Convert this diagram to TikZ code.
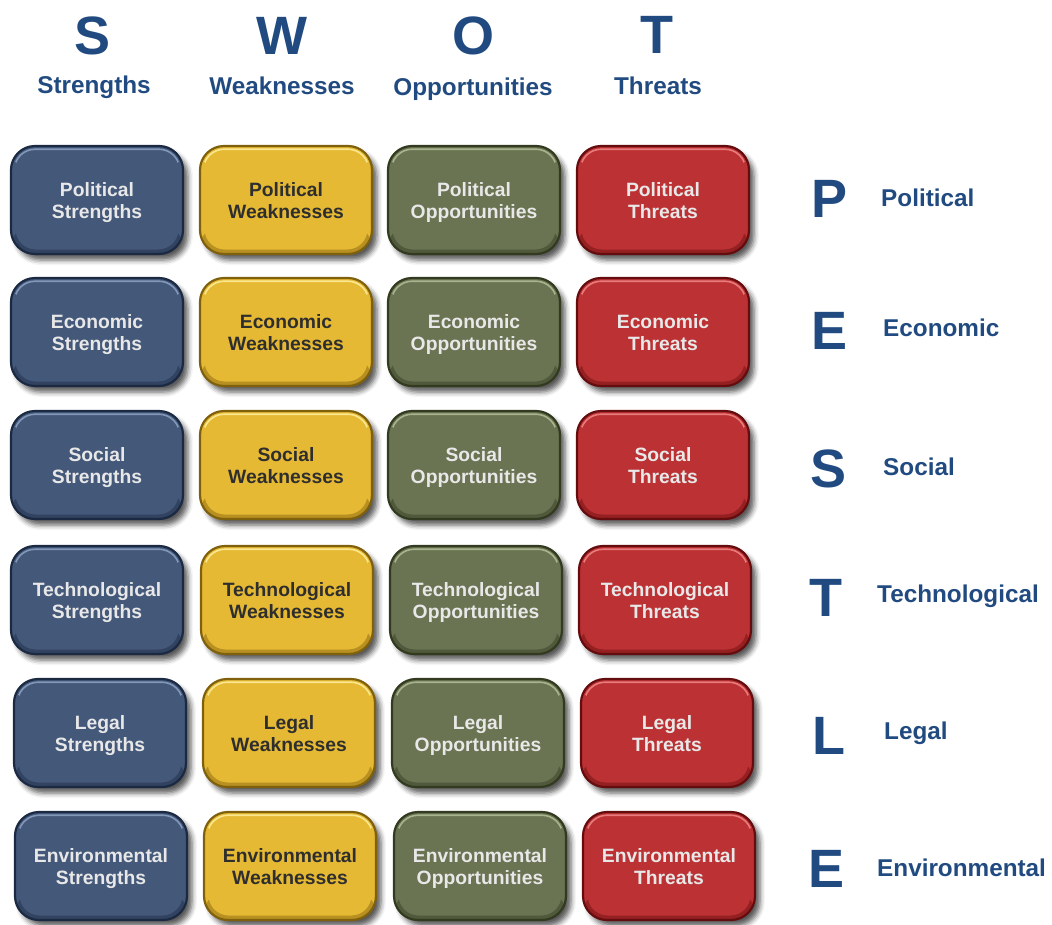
\documentclass[tikz,border=0pt]{standalone}
\usepackage{fontspec}
\setmainfont{Liberation Sans}
\usetikzlibrary{shadows,shadows.blur}
\definecolor{hdr}{HTML}{214B80}
\definecolor{sfill}{HTML}{44587A}\definecolor{sline}{HTML}{1B2A42}\definecolor{shi}{HTML}{8FA3C4}
\definecolor{wfill}{HTML}{E5B933}\definecolor{wline}{HTML}{7F600C}\definecolor{whi}{HTML}{FFF0A0}
\definecolor{ofill}{HTML}{6A7352}\definecolor{oline}{HTML}{323A1F}\definecolor{ohi}{HTML}{B5C09A}
\definecolor{tfill}{HTML}{BC3133}\definecolor{tline}{HTML}{650C0E}\definecolor{thi}{HTML}{F08A8A}
\definecolor{lighttext}{HTML}{E8E8E8}
\definecolor{darktext}{HTML}{2E2E2E}
\newcommand{\twol}[2]{\rule{0pt}{21.4pt}#1\\\strut#2}
\tikzset{
  cell/.style n args={3}{draw=#2, fill=#1, line width=2.2pt,
    rounded corners=24pt, minimum width=172pt, minimum height=108pt,
    inner sep=0pt, align=center,
    font=\bfseries\fontsize{19.3}{22}\selectfont,
    blur shadow={shadow xshift=5pt, shadow yshift=-6pt, shadow blur radius=5pt, shadow opacity=65},
    path picture={
      \begin{scope}
        \clip (path picture bounding box.north west) rectangle ([yshift=-26pt]path picture bounding box.north east);
        \draw[#3, line width=1.6pt, rounded corners=21pt, opacity=.85]
          ([shift={(3.2pt,-3.2pt)}]path picture bounding box.north west)
          rectangle ([shift={(-3.2pt,3.2pt)}]path picture bounding box.south east);
      \end{scope}
      \begin{scope}
        \clip (path picture bounding box.south west) rectangle ([yshift=30pt]path picture bounding box.south east);
        \draw[#2, line width=4pt, rounded corners=22pt, opacity=.45]
          ([shift={(2.5pt,-2.5pt)}]path picture bounding box.north west)
          rectangle ([shift={(-2.5pt,2.5pt)}]path picture bounding box.south east);
      \end{scope}}},
  scell/.style={cell={sfill}{sline}{shi}, text=lighttext},
  wcell/.style={cell={wfill}{wline}{whi}, text=darktext},
  ocell/.style={cell={ofill}{oline}{ohi}, text=lighttext},
  tcell/.style={cell={tfill}{tline}{thi}, text=lighttext},
  bigletter/.style={text=hdr, font=\bfseries\fontsize{54}{54}\selectfont, anchor=base, inner sep=0pt},
  toplabel/.style={text=hdr, font=\bfseries\fontsize{24.3}{26}\selectfont, anchor=base, inner sep=0pt},
  sidelabel/.style={text=hdr, font=\bfseries\fontsize{24.3}{26}\selectfont, anchor=base west, inner sep=0pt},
}
\begin{document}
\begin{tikzpicture}[x=1pt,y=1pt]
\useasboundingbox (0,0) rectangle (1052,-924);
% header
\node[bigletter] (hS) at (93,-54) {S};
\node[bigletter] (hW) at (282,-54) {W};
\node[bigletter] (hO) at (473,-54) {O};
\node[bigletter] (hT) at (657,-53) {T};
\node[toplabel] (lS) at (94,-93) {Strengths};
\node[toplabel] (lW) at (282,-94) {Weaknesses};
\node[toplabel] (lO) at (473,-95) {Opportunities};
\node[toplabel] (lT) at (658,-94) {Threats};
% row 1
\node[scell] (s1) at (97,-200) {\twol{Political}{Strengths}};
\node[wcell] (w1) at (286,-200) {\twol{Political}{Weaknesses}};
\node[ocell] (o1) at (474,-200) {\twol{Political}{Opportunities}};
\node[tcell] (t1) at (663,-200) {\twol{Political}{Threats}};
% row 2
\node[scell] (s2) at (97,-332) {\twol{Economic}{Strengths}};
\node[wcell] (w2) at (286,-332) {\twol{Economic}{Weaknesses}};
\node[ocell] (o2) at (474,-332) {\twol{Economic}{Opportunities}};
\node[tcell] (t2) at (663,-332) {\twol{Economic}{Threats}};
% row 3
\node[scell] (s3) at (97,-465) {\twol{Social}{Strengths}};
\node[wcell] (w3) at (286,-465) {\twol{Social}{Weaknesses}};
\node[ocell] (o3) at (474,-465) {\twol{Social}{Opportunities}};
\node[tcell] (t3) at (663,-465) {\twol{Social}{Threats}};
% row 4
\node[scell] (s4) at (97,-600) {\twol{Technological}{Strengths}};
\node[wcell] (w4) at (287,-600) {\twol{Technological}{Weaknesses}};
\node[ocell] (o4) at (476,-600) {\twol{Technological}{Opportunities}};
\node[tcell] (t4) at (665,-600) {\twol{Technological}{Threats}};
% row 5
\node[scell] (s5) at (100,-733) {\twol{Legal}{Strengths}};
\node[wcell] (w5) at (289,-733) {\twol{Legal}{Weaknesses}};
\node[ocell] (o5) at (478,-733) {\twol{Legal}{Opportunities}};
\node[tcell] (t5) at (667,-733) {\twol{Legal}{Threats}};
% row 6
\node[scell] (s6) at (101,-866) {\twol{Environmental}{Strengths}};
\node[wcell] (w6) at (290,-866) {\twol{Environmental}{Weaknesses}};
\node[ocell] (o6) at (480,-866) {\twol{Environmental}{Opportunities}};
\node[tcell] (t6) at (669,-866) {\twol{Environmental}{Threats}};
% right side
\node[bigletter] (rP) at (829,-217) {P};
\node[bigletter] (rE) at (829,-349) {E};
\node[bigletter] (rS) at (828,-487) {S};
\node[bigletter] (rT) at (826,-616) {T};
\node[bigletter] (rL) at (829,-754) {L};
\node[bigletter] (rE2) at (826,-887) {E};
\node[sidelabel] (pP) at (881,-206) {Political};
\node[sidelabel] (pE) at (883,-336) {Economic};
\node[sidelabel] (pS) at (883,-475) {Social};
\node[sidelabel] (pT) at (877,-602) {Technological};
\node[sidelabel] (pL) at (884,-739) {Legal};
\node[sidelabel] (pE2) at (877,-876) {Environmental};
\end{tikzpicture}
\end{document}
